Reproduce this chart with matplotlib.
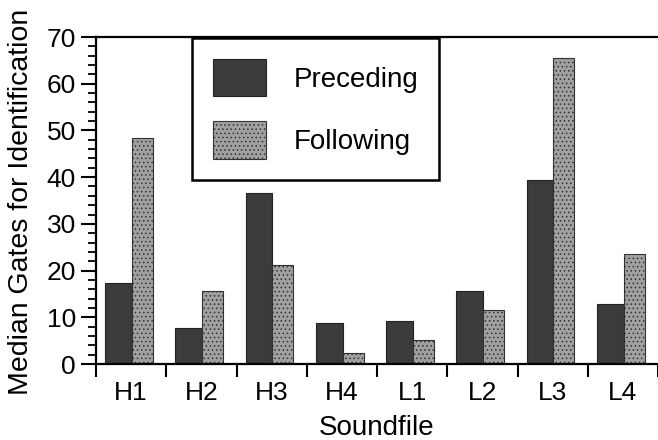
import numpy as np
import matplotlib
matplotlib.use("Agg")
import matplotlib.pyplot as plt
from matplotlib.ticker import MultipleLocator

plt.rcParams['font.family'] = ['Liberation Sans', 'DejaVu Sans']
plt.rcParams['hatch.linewidth'] = 0.6

soundfiles = ["H1", "H2", "H3", "H4", "L1", "L2", "L3", "L4"]
preceding = [17.3, 7.7, 36.6, 8.8, 9.2, 15.6, 39.4, 12.8]
following = [48.4, 15.6, 21.2, 2.4, 5.1, 11.6, 65.5, 23.5]

ticksize = 19
dark = "#3b3b3b"
light = "#a0a0a0"

fig = plt.figure(figsize=(6.58, 4.40), dpi=100)
ax = fig.add_axes([96/658, 76/440, 562/658, 327/440])

x = np.arange(len(soundfiles))
w_pre = 0.38
w_fol = 0.30
ax.bar(x + 0.13, preceding, width=w_pre, align='edge', color=dark,
       edgecolor="#222222", linewidth=0.8, label="Preceding")
ax.bar(x + 0.13 + w_pre, following, width=w_fol, align='edge', color=light,
       edgecolor="#333333", linewidth=0.8, hatch='....', label="Following")

ax.set_xlim(0, 8)
ax.set_ylim(0, 70)

# ticks on group boundaries, labels at group centres
ax.set_xticks(np.arange(0, 9))
ax.set_xticklabels([])
ax.set_xticks(x + 0.5, minor=True)
ax.set_xticklabels(soundfiles, minor=True, fontsize=ticksize)
ax.tick_params(axis='x', which='major', direction='out', length=9.5, width=1.5)
ax.tick_params(axis='x', which='minor', length=0, pad=12.5)

ax.yaxis.set_major_locator(MultipleLocator(10))
ax.yaxis.set_minor_locator(MultipleLocator(2))
ax.tick_params(axis='y', which='major', direction='out', length=11, width=1.5,
               labelsize=ticksize, pad=3.5)
ax.tick_params(axis='y', which='minor', direction='out', length=6, width=1.3)

for s in ['left', 'bottom', 'top']:
    ax.spines[s].set_linewidth(1.6)
ax.spines['right'].set_visible(False)

ax.set_xlabel("Soundfile", fontsize=20, labelpad=7)
fig.text(21/658, 45/440, "Median Gates for Identification", rotation=90,
         fontsize=20.5, ha='center', va='bottom')

leg = ax.legend(loc='upper left', bbox_to_anchor=(0.171, 0.997), borderaxespad=0,
                fontsize=20, handlelength=1.9, handleheight=1.7,
                handletextpad=1.0, labelspacing=0.9, borderpad=0.75,
                fancybox=False, framealpha=1, edgecolor='black')
leg.get_frame().set_linewidth(1.8)

fig.savefig("out.png", dpi=100)
